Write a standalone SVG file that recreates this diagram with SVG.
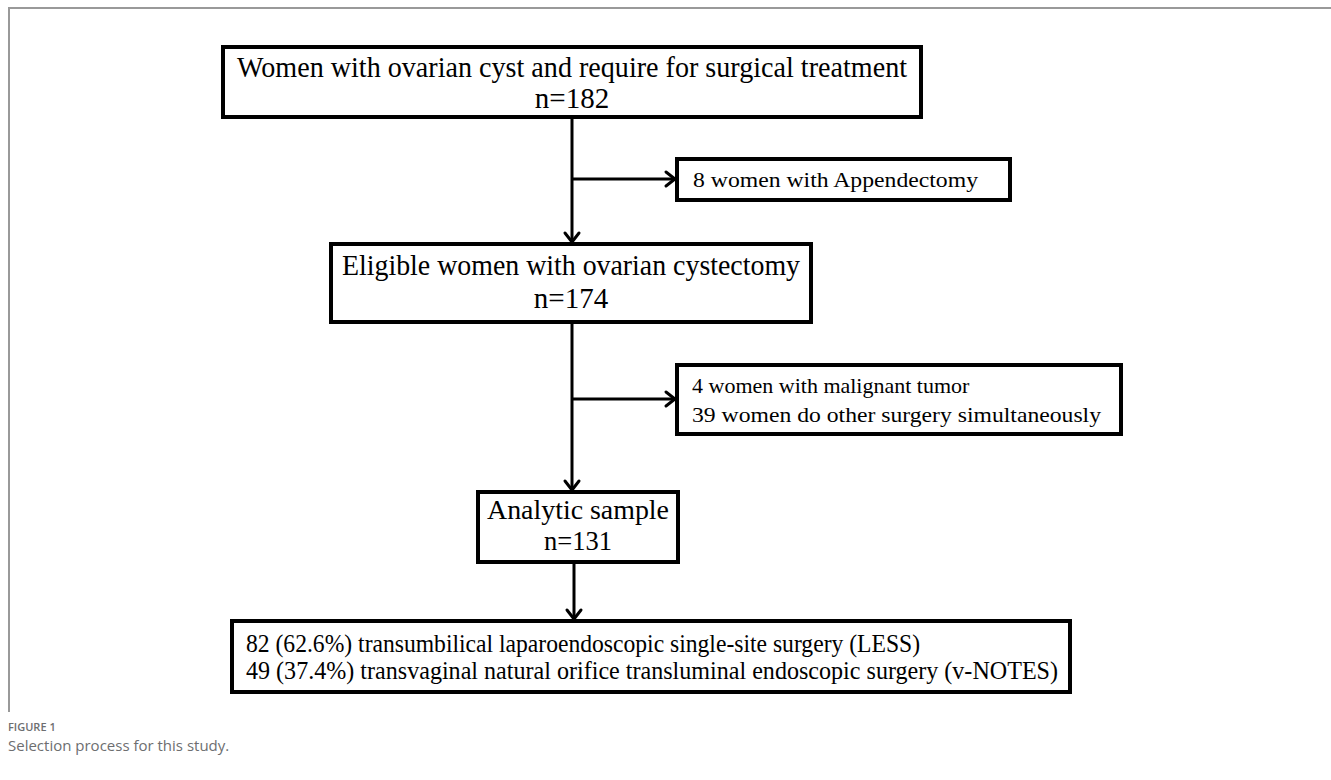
<svg xmlns="http://www.w3.org/2000/svg" width="1331" height="780" viewBox="0 0 1331 780">
<style>
.box{fill:#fff;stroke:#000;stroke-width:4}
.t{font-family:"Liberation Serif","Times New Roman",serif;fill:#000}
.c{stroke:#000;stroke-width:3;fill:none}
.ah{stroke:#000;stroke-width:3;fill:none;stroke-linecap:round;stroke-linejoin:miter}
.frame{stroke:#999;stroke-width:2;fill:none}
.cap{font-family:"Open Sans","Liberation Sans",sans-serif;fill:#6d6e70}
</style>
<rect width="1331" height="780" fill="#fff"/>
<path class="frame" d="M9,712 V8 H1331"/>
<g id="connectors">
<path class="c" d="M572,117 V242"/>
<path class="ah" d="M565,233 L572,242 L579,233"/>
<path class="c" d="M572,179 H675"/>
<path class="ah" d="M666,172 L675,179 L666,186"/>
<path class="c" d="M572,322 V490"/>
<path class="ah" d="M565,481 L572,490 L579,481"/>
<path class="c" d="M572,399 H675"/>
<path class="ah" d="M666,392 L675,399 L666,406"/>
<path class="c" d="M574,562 V619"/>
<path class="ah" d="M567,610 L574,619 L581,610"/>
</g>
<g id="n1">
<rect class="box" x="223" y="47" width="698" height="70"/>
<text class="t" x="572" y="77" font-size="29" text-anchor="middle" textLength="670" lengthAdjust="spacingAndGlyphs">Women with ovarian cyst and require for surgical treatment</text>
<text class="t" x="572" y="108" font-size="29" text-anchor="middle">n=182</text>
</g>
<g id="n2">
<rect class="box" x="677" y="159" width="333" height="41"/>
<text class="t" x="693" y="187" font-size="22" textLength="285" lengthAdjust="spacingAndGlyphs">8 women with Appendectomy</text>
</g>
<g id="n3">
<rect class="box" x="331" y="244" width="480" height="78"/>
<text class="t" x="571" y="275" font-size="29" text-anchor="middle" textLength="458" lengthAdjust="spacingAndGlyphs">Eligible women with ovarian cystectomy</text>
<text class="t" x="571" y="308" font-size="29" text-anchor="middle">n=174</text>
</g>
<g id="n4">
<rect class="box" x="677" y="365" width="444" height="69"/>
<text class="t" x="692" y="393" font-size="22">4 women with malignant tumor</text>
<text class="t" x="692" y="422" font-size="22" textLength="409" lengthAdjust="spacingAndGlyphs">39 women do other surgery simultaneously</text>
</g>
<g id="n5">
<rect class="box" x="478" y="492" width="200" height="70"/>
<text class="t" x="578" y="519" font-size="27" text-anchor="middle" textLength="182" lengthAdjust="spacingAndGlyphs">Analytic sample</text>
<text class="t" x="578" y="550" font-size="27" text-anchor="middle" textLength="68" lengthAdjust="spacingAndGlyphs">n=131</text>
</g>
<g id="n6">
<rect class="box" x="232" y="621" width="838" height="71"/>
<text class="t" x="246" y="652" font-size="26" textLength="674" lengthAdjust="spacingAndGlyphs">82 (62.6%) transumbilical laparoendoscopic single-site surgery (LESS)</text>
<text class="t" x="246" y="679" font-size="26" textLength="812" lengthAdjust="spacingAndGlyphs">49 (37.4%) transvaginal natural orifice transluminal endoscopic surgery (v-NOTES)</text>
</g>
<g id="caption">
<text class="cap" x="8" y="731" font-size="11" font-weight="600">FIGURE 1</text>
<text class="cap" x="8" y="751" font-size="15">Selection process for this study.</text>
</g>
</svg>
